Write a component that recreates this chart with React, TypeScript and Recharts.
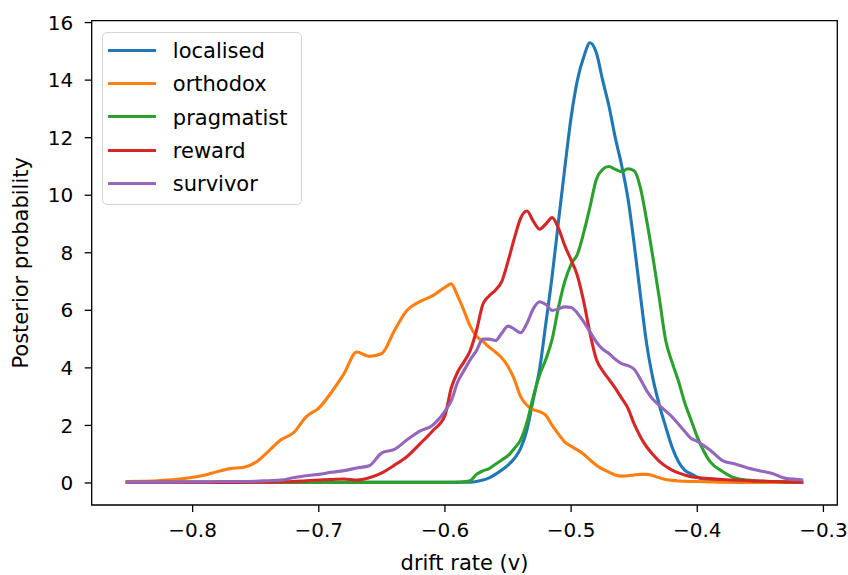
import { LineChart, Line, XAxis, YAxis, Legend, ReferenceArea } from "recharts";

// drift rate grid: coarse in the tails, finer around the peaks
const driftRate = [
  -0.853, -0.84, -0.83, -0.82, -0.81, -0.8, -0.79, -0.78, -0.77, -0.76, -0.75, -0.74, -0.73,
  -0.72, -0.71, -0.7, -0.69, -0.68, -0.67, -0.66, -0.65, -0.64, -0.63, -0.62, -0.61,
  -0.6, -0.595, -0.59, -0.585, -0.58, -0.575, -0.57, -0.565, -0.56, -0.555, -0.55, -0.545,
  -0.54, -0.535, -0.53, -0.525, -0.52, -0.515, -0.51, -0.505, -0.5, -0.495, -0.49, -0.485,
  -0.48, -0.475, -0.47, -0.465, -0.46, -0.455, -0.45, -0.445, -0.44, -0.435, -0.43, -0.425,
  -0.42, -0.415, -0.41, -0.405, -0.4,
  -0.39, -0.38, -0.37, -0.36, -0.35, -0.34, -0.33, -0.32, -0.316,
];

const localised = [
  0.02, 0.02, 0.02, 0.02, 0.02, 0.02, 0.02, 0.02, 0.02, 0.02, 0.02, 0.02, 0.02,
  0.02, 0.02, 0.02, 0.02, 0.02, 0.02, 0.02, 0.02, 0.02, 0.02, 0.02, 0.02,
  0.02, 0.02, 0.02, 0.03, 0.03, 0.05, 0.1, 0.18, 0.3, 0.45, 0.62, 0.85,
  1.2, 1.85, 2.9, 3.95, 5.55, 7.2, 9.1, 10.95, 12.7, 14.0, 14.8, 15.3,
  14.95, 14.0, 13.1, 12.0, 11.05, 9.9, 8.3, 6.5, 4.8, 3.6, 2.7, 1.95,
  1.25, 0.75, 0.45, 0.32, 0.2,
  0.1, 0.05, 0.03, 0.02, 0.02, 0.02, 0.02, 0.02, 0.02,
];

const orthodox = [
  0.05, 0.06, 0.07, 0.1, 0.14, 0.2, 0.28, 0.4, 0.5, 0.54, 0.72, 1.1, 1.5,
  1.75, 2.3, 2.6, 3.15, 3.8, 4.55, 4.4, 4.5, 5.3, 6.0, 6.3, 6.5,
  6.8, 6.92, 6.5, 6.0, 5.45, 5.1, 4.92, 4.72, 4.55, 4.35, 4.05, 3.6,
  3.0, 2.7, 2.55, 2.48, 2.35, 2.0, 1.7, 1.42, 1.28, 1.15, 1.0, 0.8,
  0.62, 0.48, 0.38, 0.28, 0.24, 0.25, 0.28, 0.3, 0.3, 0.25, 0.18, 0.12,
  0.09, 0.07, 0.06, 0.05, 0.05,
  0.04, 0.03, 0.03, 0.02, 0.02, 0.02, 0.02, 0.02, 0.02,
];

const pragmatist = [
  0.02, 0.02, 0.02, 0.02, 0.02, 0.02, 0.02, 0.02, 0.02, 0.02, 0.02, 0.02, 0.02,
  0.02, 0.02, 0.02, 0.02, 0.02, 0.02, 0.02, 0.02, 0.02, 0.02, 0.02, 0.02,
  0.02, 0.02, 0.03, 0.04, 0.08, 0.3, 0.42, 0.5, 0.65, 0.8, 0.95, 1.2,
  1.5, 2.1, 3.0, 3.75, 4.3, 5.0, 6.1, 7.0, 7.6, 7.95, 8.7, 9.6,
  10.55, 10.9, 11.0, 10.9, 10.82, 10.92, 10.85, 10.25, 9.1, 7.8, 6.4, 4.95,
  4.2, 3.55, 2.8, 2.2, 1.6,
  0.75, 0.4, 0.17, 0.1, 0.06, 0.05, 0.04, 0.03, 0.03,
];

const reward = [
  0.02, 0.02, 0.02, 0.02, 0.02, 0.02, 0.02, 0.02, 0.02, 0.02, 0.03, 0.03, 0.04,
  0.05, 0.08, 0.1, 0.12, 0.14, 0.1, 0.18, 0.35, 0.62, 0.92, 1.35, 1.8,
  2.35, 3.3, 3.85, 4.2, 4.6, 5.3, 6.2, 6.5, 6.7, 7.0, 7.7, 8.5,
  9.2, 9.45, 9.1, 8.82, 9.0, 9.22, 8.85, 8.25, 7.75, 7.2, 6.3, 5.2,
  4.3, 3.9, 3.6, 3.3, 2.95, 2.6, 2.05, 1.6, 1.25, 0.98, 0.75, 0.58,
  0.45, 0.35, 0.28, 0.22, 0.19,
  0.15, 0.12, 0.1, 0.08, 0.07, 0.05, 0.04, 0.03, 0.03,
];

const survivor = [
  0.03, 0.03, 0.03, 0.03, 0.04, 0.04, 0.04, 0.05, 0.05, 0.05, 0.06, 0.08, 0.1,
  0.18, 0.25, 0.3, 0.37, 0.43, 0.52, 0.6, 1.05, 1.17, 1.5, 1.8, 2.0,
  2.5, 2.85, 3.5, 3.9, 4.28, 4.6, 5.0, 5.0, 4.95, 5.2, 5.45, 5.35,
  5.22, 5.55, 6.05, 6.3, 6.2, 6.0, 6.05, 6.12, 6.1, 5.9, 5.6, 5.25,
  4.9, 4.65, 4.5, 4.3, 4.15, 4.08, 3.95, 3.6, 3.2, 2.9, 2.7, 2.5,
  2.3, 2.05, 1.8, 1.55, 1.45,
  1.15, 0.78, 0.66, 0.52, 0.42, 0.32, 0.16, 0.12, 0.1,
];

const seriesNames = ["localised", "orthodox", "pragmatist", "reward", "survivor"];
const seriesColors = ["#1f77b4", "#ff7f0e", "#2ca02c", "#d62728", "#9467bd"];
const xTicks = [-0.8, -0.7, -0.6, -0.5, -0.4, -0.3];
const yTicks = [0, 2, 4, 6, 8, 10, 12, 14, 16];
const xDomain = [-0.88, -0.289];
const yDomain = [-0.765, 16.065];

const rows = driftRate.map((x, i) => ({
  x,
  localised: localised[i],
  orthodox: orthodox[i],
  pragmatist: pragmatist[i],
  reward: reward[i],
  survivor: survivor[i],
}));

const FONT = "DejaVu Sans";
const tickStyle = { fontSize: 20, fill: "#000", fontFamily: FONT };

const fmtX = (v: number) => (v < 0 ? "\u2212" : "") + Math.abs(v).toFixed(1);

// matplotlib-style boxed legend
function BoxLegend(props: any) {
  const payload = props.payload || [];
  return (
    <div
      style={{
        position: "relative",
        width: 200,
        height: 173,
        boxSizing: "border-box",
        border: "1.5px solid #d4d4d4",
        borderRadius: 5,
        background: "#fff",
        fontFamily: FONT,
        fontSize: 21,
        color: "#000",
      }}
    >
      {payload.map((e: any, i: number) => (
        <div key={e.value}>
          <div
            style={{
              position: "absolute",
              left: 4.5,
              top: 16 + i * 33.3,
              width: 48,
              height: 3.1,
              background: e.color,
            }}
          />
          <div
            style={{
              position: "absolute",
              left: 69.5,
              top: 6.5 + i * 33.3,
              lineHeight: "24px",
              whiteSpace: "nowrap",
            }}
          >
            {e.value}
          </div>
        </div>
      ))}
    </div>
  );
}

export default function App() {
  return (
    <div style={{ position: "absolute", left: 0, top: 0, width: 848, height: 575, background: "#fff" }}>
      <LineChart
        width={848}
        height={575}
        data={rows}
        margin={{ top: 20.7, right: 10.7, bottom: 0, left: 11.7 }}
      >
        <XAxis
          dataKey="x"
          type="number"
          domain={xDomain}
          allowDataOverflow
          ticks={xTicks}
          interval={0}
          tickFormatter={fmtX}
          tick={tickStyle}
          tickSize={7}
          tickMargin={11}
          axisLine={false}
          tickLine={{ stroke: "#000", strokeWidth: 1.3 }}
          height={70}
          label={{ value: "drift rate (v)", position: "insideBottom", offset: 5, fill: "#000", fontSize: 21, fontFamily: FONT }}
        />
        <YAxis
          type="number"
          domain={yDomain}
          allowDataOverflow
          ticks={yTicks}
          interval={0}
          tick={tickStyle}
          tickSize={7}
          tickMargin={11.5}
          axisLine={false}
          tickLine={{ stroke: "#000", strokeWidth: 1.3 }}
          width={80}
          label={{
            value: "Posterior probability",
            angle: -90,
            position: "insideLeft",
            offset: 9.3,
            fill: "#000",
            fontSize: 21,
            fontFamily: FONT,
            style: { textAnchor: "middle" },
          }}
        />
        <ReferenceArea
          x1={xDomain[0]}
          x2={xDomain[1]}
          y1={yDomain[0]}
          y2={yDomain[1]}
          fill="none"
          stroke="#000"
          strokeWidth={1.3}
          ifOverflow="visible"
        />
        {seriesNames.map((name, i) => (
          <Line
            key={name}
            dataKey={name}
            name={name}
            type="monotone"
            stroke={seriesColors[i]}
            strokeWidth={3.1}
            dot={false}
            activeDot={false}
            isAnimationActive={false}
          />
        ))}
        <Legend
          layout="vertical"
          align="center"
          verticalAlign="middle"
          content={<BoxLegend />}
          wrapperStyle={{ left: 102.3, top: 31.7, width: 200, height: 173 }}
        />
      </LineChart>
    </div>
  );
}
